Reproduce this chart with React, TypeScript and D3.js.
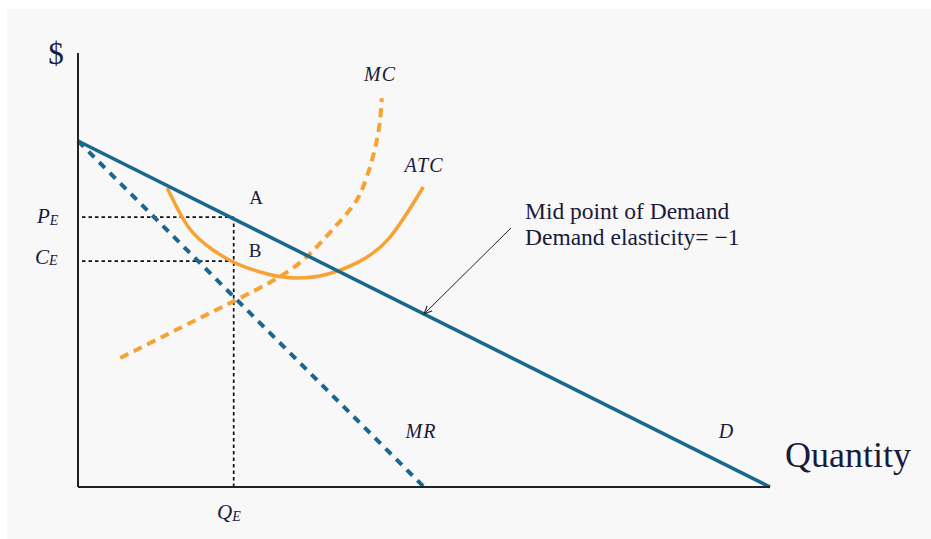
import React from "react";
import * as d3 from "d3";

// Quantity (x) and price (y) in chart units
const demandQ = [0, 10];
const demandP = [10, 0];
const mrQ = [0, 5];
const mrP = [10, 0];
const mcQ = [0.61, 1.91, 2.34, 3.02, 3.5, 3.89, 4.12, 4.32, 4.39];
const mcP = [3.73, 5.03, 5.46, 6.21, 7.05, 7.92, 8.67, 10.03, 11.24];
const atcQ = [1.29, 1.6, 1.95, 2.3, 2.75, 3.16, 3.6, 4.05, 4.5, 4.99];
const atcP = [8.64, 7.5, 6.85, 6.45, 6.15, 6.04, 6.15, 6.5, 7.2, 8.67];
const QE = 2.25;
const PE = 7.8;
const CE = 6.53;
const midQ = 5;
const midP = 5;

const W = 931;
const H = 539;
const BLUE = "#1a6790";
const ORANGE = "#f7a233";
const SERIF = "'Liberation Serif', 'DejaVu Serif', serif";
const INK = "#1a1a3a";

export default function App() {
  const x = d3.scaleLinear().domain([0, 10]).range([78, 770]);
  const y = d3.scaleLinear().domain([0, 12.5]).range([487, 54.5]);

  const straight = d3
    .line<[number, number]>()
    .x((d) => x(d[0]))
    .y((d) => y(d[1]));
  const curve = d3
    .line<[number, number]>()
    .x((d) => x(d[0]))
    .y((d) => y(d[1]))
    .curve(d3.curveNatural);

  const demand = demandQ.map((q, i) => [q, demandP[i]] as [number, number]);
  const mr = mrQ.map((q, i) => [q, mrP[i]] as [number, number]);
  const mc = mcQ.map((q, i) => [q, mcP[i]] as [number, number]);
  const atc = atcQ.map((q, i) => [q, atcP[i]] as [number, number]);

  const ax0 = x(0);
  const ay0 = y(0);

  const arrowEnd: [number, number] = [x(midQ), y(midP)];
  const arrowStart: [number, number] = [511, 228];

  return (
    <svg
      width={W}
      height={H}
      style={{ position: "absolute", left: 0, top: 0 }}
      fontFamily={SERIF}
    >
      <defs>
        <marker
          id="arr"
          viewBox="0 0 10 10"
          refX="9"
          refY="5"
          markerWidth="9"
          markerHeight="9"
          orient="auto"
          markerUnits="userSpaceOnUse"
        >
          <path d="M0,1 L9,5 L0,9" fill="none" stroke="#222" strokeWidth={1.2} />
        </marker>
      </defs>
      <rect x={7} y={9} width={W - 7} height={H - 9} fill="#f8f8f8" />

      {/* dotted guides */}
      <line x1={82} x2={x(QE)} y1={y(PE)} y2={y(PE)} stroke="#111" strokeWidth={1.7} strokeDasharray="3.5,3" />
      <line x1={82} x2={x(QE)} y1={y(CE)} y2={y(CE)} stroke="#111" strokeWidth={1.7} strokeDasharray="3.5,3" />
      <line x1={x(QE)} x2={x(QE)} y1={y(PE)} y2={ay0} stroke="#111" strokeWidth={1.7} strokeDasharray="3.5,3" />

      {/* curves */}
      <path d={curve(mc) || ""} fill="none" stroke={ORANGE} strokeWidth={4} strokeDasharray="9,6" />
      <path d={curve(atc) || ""} fill="none" stroke={ORANGE} strokeWidth={3.5} />
      <path d={straight(mr) || ""} fill="none" stroke={BLUE} strokeWidth={4} strokeDasharray="8,7" />
      <path d={straight(demand) || ""} fill="none" stroke={BLUE} strokeWidth={3.5} />

      {/* axes */}
      <line x1={ax0} x2={ax0} y1={53} y2={ay0} stroke="#222" strokeWidth={2} />
      <line x1={ax0} x2={x(10)} y1={ay0} y2={ay0} stroke="#222" strokeWidth={2} />

      {/* annotation arrow */}
      <line
        x1={arrowStart[0]}
        y1={arrowStart[1]}
        x2={arrowEnd[0]}
        y2={arrowEnd[1]}
        stroke="#222"
        strokeWidth={1}
        markerEnd="url(#arr)"
      />

      {/* texts */}
      <text x={56} y={64} fontSize={31} textAnchor="middle" fill={INK}>$</text>
      <text x={380} y={81} fontSize={20} fontStyle="italic" textAnchor="middle" fill={INK} letterSpacing={1}>MC</text>
      <text x={424} y={172} fontSize={20} fontStyle="italic" textAnchor="middle" fill={INK} letterSpacing={1}>ATC</text>
      <text x={256} y={204} fontSize={19} textAnchor="middle" fill={INK}>A</text>
      <text x={255} y={257} fontSize={19} textAnchor="middle" fill={INK}>B</text>
      <text x={421} y={438} fontSize={20} fontStyle="italic" textAnchor="middle" fill={INK} letterSpacing={1}>MR</text>
      <text x={726} y={438} fontSize={20} fontStyle="italic" textAnchor="middle" fill={INK}>D</text>
      <text x={785} y={467} fontSize={36} fill={INK}>Quantity</text>

      <text x={37} y={223} fontSize={21} fontStyle="italic" fill={INK}>
        P<tspan fontSize={14} dy={2}>E</tspan>
      </text>
      <text x={35} y={264} fontSize={21} fontStyle="italic" fill={INK}>
        C<tspan fontSize={14} dy={1}>E</tspan>
      </text>
      <text x={217} y={519} fontSize={21} fontStyle="italic" fill={INK}>
        Q<tspan fontSize={14} dy={2}>E</tspan>
      </text>

      <text x={525} y={219} fontSize={23.5} fill={INK}>Mid point of Demand</text>
      <text x={525} y={245} fontSize={23.5} fill={INK}>Demand elasticity= −1</text>
    </svg>
  );
}
